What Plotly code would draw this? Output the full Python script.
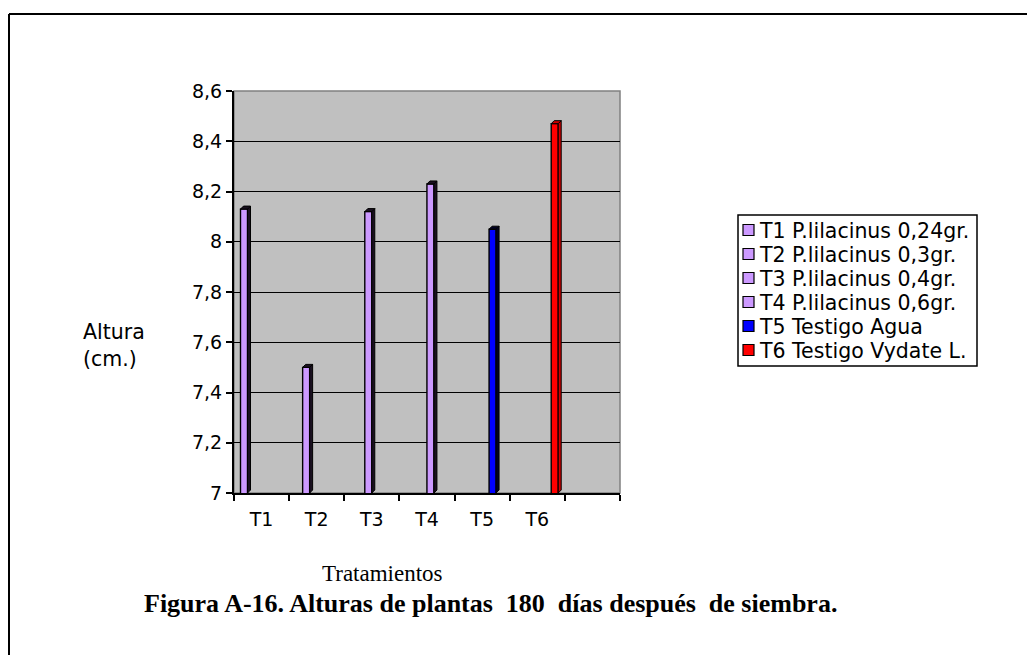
import plotly.graph_objects as go

# Treatment data: plant height (cm) at 180 days
series_names = [
    "T1 P.lilacinus 0,24gr.",
    "T2 P.lilacinus 0,3gr.",
    "T3 P.lilacinus 0,4gr.",
    "T4 P.lilacinus 0,6gr.",
    "T5 Testigo Agua",
    "T6 Testigo Vydate L.",
]
categories = ["T1", "T2", "T3", "T4", "T5", "T6", ""]
heights = [8.13, 7.50, 8.12, 8.23, 8.05, 8.47]
colors = ["#CC99FF", "#CC99FF", "#CC99FF", "#CC99FF", "#0000FF", "#FF0000"]
side_colors = ["#1A1020", "#1A1020", "#1A1020", "#1A1020", "#000022", "#CC0000"]
y_ticks = [7.0, 7.2, 7.4, 7.6, 7.8, 8.0, 8.2, 8.4, 8.6]
y_ticktext = ["7", "7,2", "7,4", "7,6", "7,8", "8", "8,2", "8,4", "8,6"]

W, H = 1027, 655
L, R, T, B = 234, 407, 91, 162
PW, PH = W - L - R, H - T - B
Y0, Y1 = 7.0, 8.6
NCAT = len(categories)


def px_x(px):
    return (px - L) / PW


def px_y(py):
    return (H - B - py) / PH


# bar geometry in category units
bar_w = 7 / (PW / NCAT)
start = -0.5 + 6.5 / (PW / NCAT)
dx = 3 / (PW / NCAT)
dy = 3 / (PH / (Y1 - Y0))

fig = go.Figure()

for i, (name, h) in enumerate(zip(series_names, heights)):
    off = start + i * bar_w
    fig.add_trace(go.Bar(
        x=[i], y=[h], name=name,
        offset=off, width=bar_w,
        marker=dict(color=colors[i], line=dict(color="black", width=1.4)),
        showlegend=False,
    ))
    # depth faces (right side and top) of the 3-D column
    xl, xr = i + off, i + off + bar_w
    fig.add_trace(go.Scatter(
        x=[xr, xr + dx, xr + dx, xr, xr], y=[Y0, Y0 + dy, h + dy, h, Y0],
        fill="toself", fillcolor=side_colors[i], mode="lines",
        line=dict(color="black", width=1), showlegend=False, hoverinfo="skip",
    ))
    fig.add_trace(go.Scatter(
        x=[xl, xl + dx, xr + dx, xr, xl], y=[h, h + dy, h + dy, h, h],
        fill="toself", fillcolor=side_colors[i], mode="lines",
        line=dict(color="black", width=1), showlegend=False, hoverinfo="skip",
    ))

shapes = []
annotations = []

# outer frame
shapes.append(dict(type="line", xref="paper", yref="paper",
                   x0=px_x(9), x1=px_x(1040), y0=px_y(14), y1=px_y(14),
                   line=dict(color="black", width=2)))
shapes.append(dict(type="line", xref="paper", yref="paper",
                   x0=px_x(9), x1=px_x(9), y0=px_y(14), y1=px_y(670),
                   line=dict(color="black", width=2)))

# plot area border
shapes.append(dict(type="rect", xref="paper", yref="paper", x0=0, x1=1, y0=0, y1=1,
                   line=dict(color="#808080", width=1.5), layer="below"))

# legend box drawn manually
lg_x0, lg_x1, lg_y0, lg_y1 = 738, 977, 215, 366
shapes.append(dict(type="rect", xref="paper", yref="paper",
                   x0=px_x(lg_x0), x1=px_x(lg_x1), y0=px_y(lg_y0), y1=px_y(lg_y1),
                   line=dict(color="black", width=1.5), fillcolor="white"))
for i, name in enumerate(series_names):
    cy = 230 + i * 24
    shapes.append(dict(type="rect", xref="paper", yref="paper",
                       x0=px_x(743), x1=px_x(754), y0=px_y(cy - 5.5), y1=px_y(cy + 5.5),
                       line=dict(color="black", width=1.2), fillcolor=colors[i]))
    annotations.append(dict(xref="paper", yref="paper", x=px_x(757), y=px_y(cy + 1),
                            text=name, showarrow=False, xanchor="left", yanchor="middle",
                            font=dict(family="DejaVu Sans", size=20.5, color="black")))

# axis titles and caption
annotations.append(dict(xref="paper", yref="paper", x=px_x(81), y=px_y(345),
                        text="Altura<br>(cm.)", showarrow=False, xanchor="left",
                        yanchor="middle", align="left",
                        font=dict(family="DejaVu Sans", size=20.5, color="black")))
annotations.append(dict(xref="paper", yref="paper", x=px_x(382), y=px_y(573),
                        text="Tratamientos", showarrow=False, xanchor="center",
                        yanchor="middle",
                        font=dict(family="Liberation Serif", size=23, color="black")))
annotations.append(dict(xref="paper", yref="paper", x=px_x(490), y=px_y(603),
                        text="<b>Figura A-16. Alturas de plantas \u00a0180 \u00a0días después \u00a0de siembra.</b>",
                        showarrow=False, xanchor="center", yanchor="middle",
                        font=dict(family="Liberation Serif", size=26, color="black")))

fig.update_layout(
    width=W, height=H,
    margin=dict(l=L, r=R, t=T, b=B, pad=0),
    paper_bgcolor="white", plot_bgcolor="#C0C0C0",
    barmode="overlay",
    showlegend=False,
    shapes=shapes, annotations=annotations,
    font=dict(family="DejaVu Sans", size=19, color="black"),
    xaxis=dict(
        range=[-0.5, NCAT - 0.5], tickvals=list(range(NCAT)), ticktext=categories,
        ticks="", showgrid=False, zeroline=False,
        showline=True, linecolor="black", linewidth=2,
        minor=dict(tickvals=[k - 0.5 for k in range(NCAT + 1)], ticks="outside",
                   ticklen=6, tickcolor="black", tickwidth=1.5, showgrid=False),
        tickfont=dict(family="DejaVu Sans", size=19),
        ticklabelstandoff=8,
        fixedrange=True,
    ),
    yaxis=dict(
        range=[Y0, Y1], tickvals=y_ticks, ticktext=y_ticktext,
        ticks="outside", ticklen=6, tickcolor="black", tickwidth=1.5,
        showgrid=True, gridcolor="black", gridwidth=1.2, zeroline=False,
        showline=True, linecolor="black", linewidth=2,
        tickfont=dict(family="DejaVu Sans", size=19),
        fixedrange=True,
    ),
)

fig.write_html("out.html")
